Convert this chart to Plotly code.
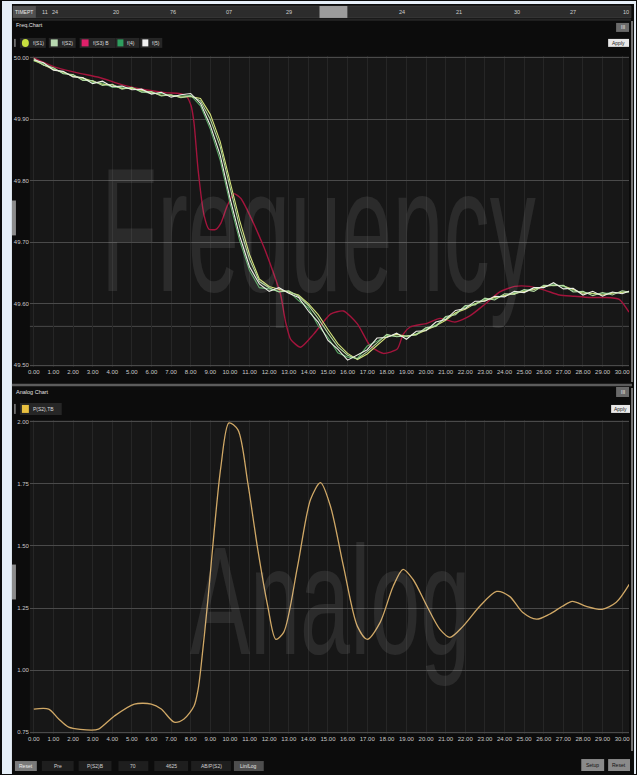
import plotly.graph_objects as go

W, H = 637, 775

# ---------------- data ----------------
TIME_S = [0.0, 0.5, 1.0, 1.5, 2.0, 2.5, 3.0, 3.5, 4.0, 4.5, 5.0, 5.5, 6.0, 6.5, 7.0, 7.5,
          8.0, 8.5, 9.0, 9.5, 10.0, 10.5, 11.0, 11.5, 12.0, 12.5, 13.0, 13.5, 14.0, 14.5,
          15.0, 15.5, 16.0, 16.5, 17.0, 17.5, 18.0, 18.5, 19.0, 19.5, 20.0, 20.5, 21.0,
          21.5, 22.0, 22.5, 23.0, 23.5, 24.0, 24.5, 25.0, 25.5, 26.0, 26.5, 27.0, 27.5,
          28.0, 28.5, 29.0, 29.5, 30.0, 30.5]

F_S1 = [49.997, 49.992, 49.980, 49.978, 49.969, 49.968, 49.958, 49.962, 49.953, 49.954,
        49.948, 49.949, 49.941, 49.944, 49.936, 49.940, 49.942, 49.926, 49.890, 49.842,
        49.772, 49.710, 49.660, 49.632, 49.620, 49.626, 49.617, 49.610, 49.588, 49.570,
        49.540, 49.526, 49.508, 49.516, 49.525, 49.544, 49.545, 49.552, 49.542, 49.555,
        49.556, 49.570, 49.574, 49.589, 49.592, 49.604, 49.604, 49.612, 49.611, 49.620,
        49.618, 49.626, 49.626, 49.634, 49.624, 49.625, 49.614, 49.620, 49.612, 49.619,
        49.616, 49.622]

F_S2 = [49.999, 49.988, 49.984, 49.974, 49.973, 49.963, 49.963, 49.955, 49.957, 49.949,
        49.952, 49.944, 49.945, 49.938, 49.940, 49.935, 49.938, 49.930, 49.900, 49.856,
        49.790, 49.724, 49.672, 49.636, 49.626, 49.619, 49.621, 49.612, 49.597, 49.576,
        49.552, 49.530, 49.516, 49.510, 49.522, 49.536, 49.550, 49.546, 49.548, 49.549,
        49.561, 49.563, 49.579, 49.582, 49.597, 49.598, 49.609, 49.606, 49.616, 49.615,
        49.623, 49.620, 49.630, 49.629, 49.630, 49.619, 49.620, 49.613, 49.618, 49.614,
        49.621, 49.618]

F_S4 = [49.995, 49.991, 49.983, 49.975, 49.972, 49.965, 49.960, 49.959, 49.952, 49.952,
        49.951, 49.945, 49.942, 49.942, 49.939, 49.938, 49.939, 49.922, 49.884, 49.834,
        49.764, 49.702, 49.654, 49.626, 49.624, 49.620, 49.620, 49.605, 49.593, 49.564,
        49.545, 49.520, 49.513, 49.511, 49.531, 49.539, 49.548, 49.547, 49.546, 49.551,
        49.559, 49.565, 49.577, 49.584, 49.595, 49.600, 49.607, 49.608, 49.613, 49.618,
        49.621, 49.624, 49.627, 49.632, 49.628, 49.621, 49.618, 49.616, 49.616, 49.618,
        49.618, 49.620]

F_S5 = [49.996, 49.989, 49.981, 49.977, 49.970, 49.967, 49.962, 49.957, 49.956, 49.950,
        49.950, 49.947, 49.944, 49.939, 49.939, 49.936, 49.937, 49.934, 49.908, 49.864,
        49.800, 49.735, 49.680, 49.640, 49.628, 49.623, 49.618, 49.614, 49.600, 49.582,
        49.558, 49.535, 49.519, 49.509, 49.518, 49.532, 49.546, 49.550, 49.547, 49.550,
        49.557, 49.564, 49.573, 49.585, 49.591, 49.600, 49.605, 49.610, 49.613, 49.616,
        49.620, 49.623, 49.628, 49.630, 49.629, 49.623, 49.617, 49.617, 49.614, 49.617,
        49.619, 49.620]

RED_T = [0.0, 1.07, 2.18, 3.35, 4.52, 5.69, 6.80, 7.41, 7.77, 8.02, 8.17, 8.38, 8.68, 8.93,
         9.29, 9.54, 9.85, 10.20, 10.56, 11.07, 11.73, 12.23, 12.59, 12.84, 13.10, 13.60,
         14.26, 15.13, 15.79, 16.50, 17.16, 17.82, 18.53, 18.83, 19.19, 20.05, 20.71,
         21.47, 22.23, 23.00, 23.76, 24.52, 25.28, 26.04, 26.80, 27.56, 28.32, 29.09,
         29.85, 30.35]
F_S3 = [50.000, 49.985, 49.976, 49.968, 49.956, 49.948, 49.943, 49.942, 49.938, 49.922,
        49.894, 49.817, 49.744, 49.721, 49.721, 49.731, 49.758, 49.779, 49.771, 49.740,
        49.692, 49.649, 49.614, 49.570, 49.542, 49.529, 49.550, 49.583, 49.588, 49.567,
        49.531, 49.519, 49.526, 49.550, 49.562, 49.568, 49.576, 49.570, 49.580, 49.599,
        49.619, 49.628, 49.628, 49.622, 49.614, 49.612, 49.610, 49.610, 49.607, 49.586]

P_T = [0.0, 0.76, 1.27, 1.78, 2.94, 3.30, 4.11, 5.13, 5.99, 6.50, 7.16, 7.66, 8.17, 8.38,
       8.53, 8.88, 9.19, 9.54, 9.95, 10.41, 10.91, 11.42, 11.93, 12.34, 12.74, 13.45,
       14.11, 14.62, 15.13, 15.79, 16.50, 17.01, 17.66, 18.32, 18.83, 19.34, 20.05,
       20.71, 21.22, 21.88, 22.74, 23.60, 24.26, 24.92, 25.63, 26.29, 26.95, 27.46,
       28.17, 28.98, 29.70, 30.36]
P_S2 = [0.843, 0.843, 0.803, 0.770, 0.758, 0.762, 0.815, 0.863, 0.863, 0.843, 0.790,
        0.803, 0.855, 0.923, 1.016, 1.285, 1.554, 1.820, 1.996, 1.968, 1.755, 1.486,
        1.257, 1.124, 1.152, 1.418, 1.687, 1.755, 1.659, 1.418, 1.176, 1.124, 1.192,
        1.337, 1.406, 1.365, 1.257, 1.164, 1.132, 1.176, 1.257, 1.317, 1.297, 1.233,
        1.205, 1.225, 1.257, 1.277, 1.257, 1.245, 1.273, 1.345]

X_TICKS = [0, 1, 2, 3, 4, 5, 6, 7, 8, 9, 10, 11, 12, 13, 14, 15, 16, 17, 18, 19, 20,
           21, 22, 23, 24, 25, 26, 27, 28, 29, 30]
X_TICK_TEXT = [f"{v:.2f}" for v in X_TICKS]
FREQ_TICKS = [49.5, 49.6, 49.7, 49.8, 49.9, 50.0]
FREQ_TICK_TEXT = ["49.50", "49.60", "49.70", "49.80", "49.90", "50.00"]
P_TICKS = [0.75, 1.0, 1.25, 1.5, 1.75, 2.0]
P_TICK_TEXT = ["0.75", "1.00", "1.25", "1.50", "1.75", "2.00"]
FREQ_LIMIT = 49.563

LEGEND_TOP = ["f(S1)", "f(S2)", "f(S3) B", "f(4)", "f(5)"]
LEGEND_BOTTOM = ["P(S2),TB"]
TIMEBAR_LABELS = ["11", "24", "20", "76", "07", "29", "24", "21", "30", "27", "10"]
TOOLBAR_LABELS = ["Reset", "Pre", "P(S2)B", "70", "4625", "AB/P(S2)", "Lin/Log"]

# ---------------- helpers ----------------
def X(px):
    return px / W


def Y(py):
    return 1 - py / H


FONT = "Liberation Sans, Arial, sans-serif"
shapes = []
annotations = []


def rect(x0, y0, x1, y1, fill, line=None, lw=0):
    shapes.append(dict(type="rect", xref="paper", yref="paper",
                       x0=X(x0), x1=X(x1), y0=Y(y1), y1=Y(y0),
                       fillcolor=fill, line=dict(color=line or fill, width=lw),
                       layer="below"))


def hline(x0, x1, y, color, w=1):
    shapes.append(dict(type="line", xref="paper", yref="paper",
                       x0=X(x0), x1=X(x1), y0=Y(y), y1=Y(y),
                       line=dict(color=color, width=w)))


def vline(x, y0, y1, color, w=1):
    shapes.append(dict(type="line", xref="paper", yref="paper",
                       x0=X(x), x1=X(x), y0=Y(y0), y1=Y(y1),
                       line=dict(color=color, width=w)))


def text(x, y, s, size=6, color="#d8d8d8", anchor="left"):
    annotations.append(dict(x=X(x), y=Y(y), xref="paper", yref="paper", text=s,
                            showarrow=False, xanchor=anchor, yanchor="middle",
                            font=dict(family=FONT, size=size, color=color)))


# ---------------- figure ----------------
fig = go.Figure()

fig.add_trace(go.Scatter(x=RED_T, y=F_S3, mode="lines", name=LEGEND_TOP[2],
                         line=dict(color="#a3143c", width=1.4, shape="spline", smoothing=0.6),
                         xaxis="x", yaxis="y", hoverinfo="skip"))
greens = [(LEGEND_TOP[3], F_S4, "#5aa866"), (LEGEND_TOP[0], F_S5, "#d2e27a"),
          (LEGEND_TOP[1], F_S2, "#b2d8a0"), (LEGEND_TOP[4], F_S1, "#eceee4")]
for nm, vals, col in greens:
    fig.add_trace(go.Scatter(x=TIME_S, y=vals, mode="lines", name=nm,
                             line=dict(color=col, width=1.1),
                             xaxis="x", yaxis="y", hoverinfo="skip"))

fig.add_trace(go.Scatter(x=P_T, y=P_S2, mode="lines", name=LEGEND_BOTTOM[0],
                         line=dict(color="#d0a866", width=1.3, shape="spline", smoothing=0.8),
                         xaxis="x2", yaxis="y2", hoverinfo="skip"))

# threshold line in frequency chart
shapes.append(dict(type="line", xref="x domain", yref="y", x0=0, x1=1,
                   y0=FREQ_LIMIT, y1=FREQ_LIMIT, line=dict(color="#484848", width=1),
                   layer="below"))

# page chrome
rect(0, 0, 10, 775, "#e6eff8")
rect(0, 0, 637, 3, "#e6eff8")
rect(635, 0, 637, 775, "#e6eff8")

# time bar
rect(11, 5, 632, 17, "#2c2c2c", "#4a4a4a", 0.5)
rect(11, 5, 34, 17, "#505050")
rect(319, 5, 347, 17, "#9c9c9c")
text(22.5, 11, "TIMEPT", 5, "#e8e8e8", "center")
for px, s in zip([43, 53, 115, 172, 228, 288, 402, 459, 517, 574, 627], TIMEBAR_LABELS):
    text(px, 11, s, 5.5, "#d0d0d0", "center")
hline(11, 632, 19, "#3a3a3a", 1)

# top panel header and legend
text(12, 24, "Freq.Chart", 5.5, "#e0e0e0")
vline(13, 38, 46, "#bbbbbb", 1)
leg_pos = [(18, 44, 20, 27, 29), (47, 74, 49, 56, 58), (78, 114, 80, 87, 89),
           (114, 138, 116, 122, 124), (139, 161, 141, 147, 149)]
leg_cols = ["#c8e040", "#b8d8b0", "#e0206a", "#2e9e5e", "#f0f0f0"]
for (b0, b1, s0, s1, tx), col, lab in zip(leg_pos, leg_cols, LEGEND_TOP):
    rect(b0, 37, b1, 47, "#262626")
    if col == "#c8e040":
        shapes.append(dict(type="circle", xref="paper", yref="paper",
                           x0=X(s0), x1=X(s1), y0=Y(46), y1=Y(38),
                           fillcolor=col, line=dict(color=col, width=0)))
    else:
        rect(s0, 38.5, s1, 45.5, col)
    text(tx, 42, lab, 5, "#dcdcdc")

# top right controls
rect(617, 22, 630, 31, "#6a6a6a")
text(623.5, 26.5, "III", 5, "#eeeeee", "center")
rect(609, 38, 630, 46, "#e8e8e8")
text(619.5, 42, "Apply", 5, "#222222", "center")

# left handles and right border
rect(10, 200, 14, 235, "#8c8c8c")
rect(10, 565, 14, 600, "#8c8c8c")
vline(633, 20, 382, "#9a9a9a", 1.5)
vline(633, 388, 752, "#9a9a9a", 1.5)

# separator and bottom header
hline(10, 633, 385, "#5c5c5c", 2.5)
text(12, 392, "Analog Chart", 5.5, "#e0e0e0")
rect(617, 387, 630, 397, "#6a6a6a")
text(623.5, 392, "III", 5, "#eeeeee", "center")
rect(612, 405, 631, 413, "#e8e8e8")
text(621.5, 409, "Apply", 5, "#222222", "center")
vline(13, 404, 414, "#bbbbbb", 1)
rect(18, 403, 60, 415, "#262626")
rect(20, 405, 27, 413, "#e8c040")
text(29, 409, LEGEND_BOTTOM[0], 5, "#dcdcdc")

# bottom toolbar
tb_pos = [(13, 35), (40, 72), (77, 110), (117, 147), (153, 187), (190, 230), (233, 263)]
for (b0, b1), lab in zip(tb_pos, TOOLBAR_LABELS):
    if lab == "Reset":
        fill, col = "#7a7a7a", "#f0f0f0"
    elif lab == "Lin/Log":
        fill, col = "#4e4e4e", "#e0e0e0"
    else:
        fill, col = "#1e1e1e", "#d0d0d0"
    rect(b0, 762, b1, 772, fill)
    text((b0 + b1) / 2, 767, lab, 5, col, "center")
rect(582, 760, 605, 772, "#8a8a8a")
text(593.5, 766, "Setup", 5, "#111111", "center")
rect(609, 760, 631, 772, "#8a8a8a")
text(620, 766, "Reset", 5, "#111111", "center")

# watermarks
annotations.append(dict(x=X(318), y=Y(230), xref="paper", yref="paper", text="Frequency",
                        showarrow=False, xanchor="center", yanchor="middle",
                        font=dict(family="Liberation Sans, Arial, sans-serif",
                                  size=92, color="rgba(255,255,255,0.085)")))
annotations.append(dict(x=X(330), y=Y(601), xref="paper", yref="paper", text="Analog",
                        showarrow=False, xanchor="center", yanchor="middle",
                        font=dict(family="Liberation Sans, Arial, sans-serif",
                                  size=90, color="rgba(255,255,255,0.085)")))

axis_font = dict(family=FONT, size=6, color="#c8c8c8")
xcommon = dict(range=[-0.2, 30.35], tickvals=X_TICKS, ticktext=X_TICK_TEXT,
               tickfont=axis_font, showgrid=True, gridcolor="#262626", gridwidth=1,
               zeroline=False, showline=False, ticks="", fixedrange=True)
ycommon = dict(tickfont=axis_font, showgrid=True, gridcolor="#4a4a4a", gridwidth=1,
               zeroline=False, showline=False, ticks="", fixedrange=True)

fig.update_layout(
    width=W, height=H, margin=dict(l=0, r=0, t=0, b=0),
    paper_bgcolor="#0c0c0c", plot_bgcolor="#171717", showlegend=False,
    xaxis=dict(domain=[X(28), X(630)], anchor="y", **xcommon),
    yaxis=dict(domain=[Y(367), Y(55)], anchor="x", range=[49.4968, 50.0032],
               tickvals=FREQ_TICKS, ticktext=FREQ_TICK_TEXT, **ycommon),
    xaxis2=dict(domain=[X(28), X(630)], anchor="y2", **xcommon),
    yaxis2=dict(domain=[Y(735), Y(420)], anchor="x2", range=[0.742, 2.008],
                tickvals=P_TICKS, ticktext=P_TICK_TEXT, **ycommon),
    shapes=shapes, annotations=annotations,
)

POST = """
document.documentElement.style.margin = '0';
document.documentElement.style.padding = '0';
document.documentElement.style.overflow = 'hidden';
document.body.style.margin = '0';
document.body.style.padding = '0';
document.body.style.overflow = 'hidden';
var gd = document.getElementById('{plot_id}');
gd.querySelectorAll('text.annotation-text').forEach(function(t){
  var s = t.textContent;
  var k = (s === 'Frequency') ? 1.92 : ((s === 'Analog') ? 1.72 : 0);
  if (k) {
    t.style.transformBox = 'fill-box';
    t.style.transformOrigin = '50% 50%';
    t.style.transform = 'scaleY(' + k + ')';
  }
});
"""

fig.write_html("out.html", post_script=POST, config={"displayModeBar": False})
